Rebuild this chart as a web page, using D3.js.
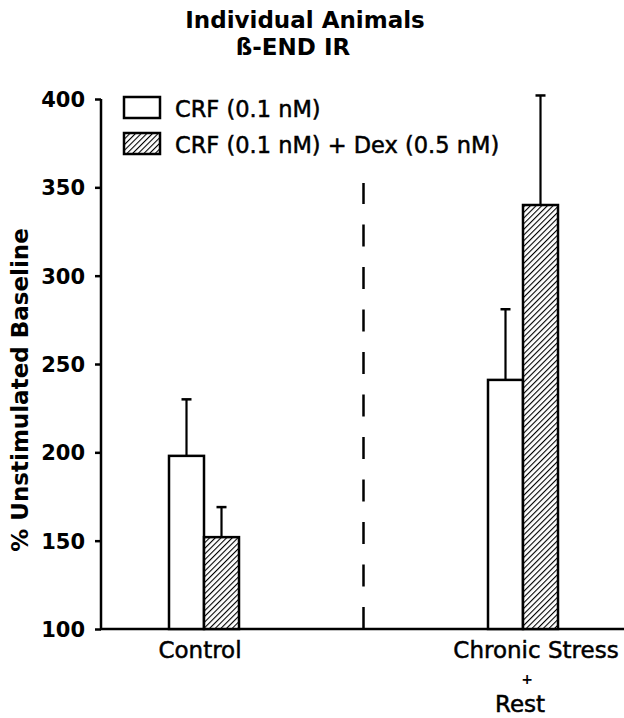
<!DOCTYPE html>
<html>
<head>
<meta charset="utf-8">
<script src="https://cdn.jsdelivr.net/npm/d3@7"></script>
<style>
  body { margin: 0; background: #fff; }
  text { font-family: "DejaVu Sans", sans-serif; fill: #000; }
  .semi { stroke: #000; stroke-width: 0.5px; }
</style>
</head>
<body>
<svg id="chart"></svg>
<script>
const groups = ["Control", "Chronic Stress"];
const series = ["CRF (0.1 nM)", "CRF (0.1 nM) + Dex (0.5 nM)"];
const crfMean = [198, 241];
const crfSem = [32, 40];
const dexMean = [152, 340];
const dexSem = [17, 62];
const yTicks = [100, 150, 200, 250, 300, 350, 400];

const width = 624, height = 718;
const svg = d3.select("#chart").attr("width", width).attr("height", height);

const defs = svg.append("defs");
const pat = defs.append("pattern")
    .attr("id", "hatch")
    .attr("patternUnits", "userSpaceOnUse")
    .attr("width", 4)
    .attr("height", 4)
    .attr("patternTransform", "rotate(45)");
pat.append("rect").attr("width", 4).attr("height", 4).attr("fill", "#fff");
pat.append("line")
    .attr("x1", 0).attr("y1", 0).attr("x2", 0).attr("y2", 4)
    .attr("stroke", "#000").attr("stroke-width", 2.2);

const y = d3.scaleLinear().domain([100, 400]).range([629, 99]);
const x = d3.scalePoint().domain(groups).range([204, 523]);
const xs = d3.scaleBand().domain(series).range([-35, 35]);

// title
svg.append("text").attr("x", 305).attr("y", 28).attr("text-anchor", "middle")
    .style("font-size", "23px").style("font-weight", "bold").text("Individual Animals");
svg.append("text").attr("x", 293).attr("y", 55).attr("text-anchor", "middle")
    .style("font-size", "23px").style("font-weight", "bold").text("ß-END IR");

// y axis
const yAxis = d3.axisLeft(y).tickValues(yTicks).tickSize(6).tickPadding(10);
const gy = svg.append("g").attr("transform", "translate(101,0)").call(yAxis);
gy.select(".domain").attr("stroke-width", 2.5).attr("d", `M0,${y(400)}V${y(100)}`);
gy.selectAll(".tick line").attr("stroke-width", 2.5);
gy.selectAll(".tick text")
    .style("font-size", "21px").style("font-weight", "bold")
    .attr("dy", "0.36em");

svg.append("text")
    .attr("transform", "translate(28,390) rotate(-90)")
    .attr("text-anchor", "middle")
    .style("font-size", "23px").style("font-weight", "bold")
    .text("% Unstimulated Baseline");

// x axis line
svg.append("line")
    .attr("x1", 100).attr("x2", width).attr("y1", y(100)).attr("y2", y(100))
    .attr("stroke", "#000").attr("stroke-width", 2.5);

// divider
const mid = (x(groups[0]) + x(groups[1])) / 2;
svg.append("line")
    .attr("x1", mid).attr("x2", mid).attr("y1", y(100)).attr("y2", y(100) - 446)
    .attr("stroke", "#000").attr("stroke-width", 2.5)
    .attr("stroke-dasharray", "22,20.5");

// bars
const rows = [];
groups.forEach((g, i) => {
  rows.push({ g, s: series[0], v: crfMean[i], e: crfSem[i], fill: "#fff" });
  rows.push({ g, s: series[1], v: dexMean[i], e: dexSem[i], fill: "url(#hatch)" });
});

const bars = svg.append("g");
bars.selectAll("line.err")
  .data(rows).enter().append("line")
    .attr("class", "err")
    .attr("x1", d => x(d.g) + xs(d.s) + xs.bandwidth() / 2)
    .attr("x2", d => x(d.g) + xs(d.s) + xs.bandwidth() / 2)
    .attr("y1", d => y(d.v)).attr("y2", d => y(d.v + d.e))
    .attr("stroke", "#000").attr("stroke-width", 2.2);
bars.selectAll("line.cap")
  .data(rows).enter().append("line")
    .attr("class", "cap")
    .attr("x1", d => x(d.g) + xs(d.s) + xs.bandwidth() / 2 - 5)
    .attr("x2", d => x(d.g) + xs(d.s) + xs.bandwidth() / 2 + 5)
    .attr("y1", d => y(d.v + d.e)).attr("y2", d => y(d.v + d.e))
    .attr("stroke", "#000").attr("stroke-width", 2.5);
bars.selectAll("rect")
  .data(rows).enter().append("rect")
    .attr("x", d => x(d.g) + xs(d.s))
    .attr("y", d => y(d.v))
    .attr("width", xs.bandwidth())
    .attr("height", d => y(100) - y(d.v))
    .attr("fill", d => d.fill)
    .attr("stroke", "#000").attr("stroke-width", 2.5);

// x labels
svg.append("text").attr("class", "semi").attr("x", x(groups[0]) - 4).attr("y", 658).attr("text-anchor", "middle")
    .style("font-size", "23px").text("Control");
svg.append("text").attr("class", "semi").attr("x", x(groups[1]) + 13).attr("y", 658).attr("text-anchor", "middle")
    .style("font-size", "23px").text("Chronic Stress");
svg.append("text").attr("x", x(groups[1]) + 4).attr("y", 684).attr("text-anchor", "middle")
    .style("font-size", "14px").style("font-weight", "bold").text("+");
svg.append("text").attr("class", "semi").attr("x", x(groups[1]) - 3).attr("y", 712).attr("text-anchor", "middle")
    .style("font-size", "23px").text("Rest");

// legend
const legend = svg.append("g").attr("transform", "translate(124,97)");
const items = legend.selectAll("g").data(series).enter().append("g")
    .attr("transform", (d, i) => `translate(0,${i * 36})`);
items.append("rect")
    .attr("width", 36).attr("height", 21)
    .attr("fill", (d, i) => i === 0 ? "#fff" : "url(#hatch)")
    .attr("stroke", "#000").attr("stroke-width", 2.5);
items.append("text")
    .attr("class", "semi")
    .attr("x", 51).attr("y", 20)
    .style("font-size", "22.5px")
    .text(d => d);
</script>
</body>
</html>
